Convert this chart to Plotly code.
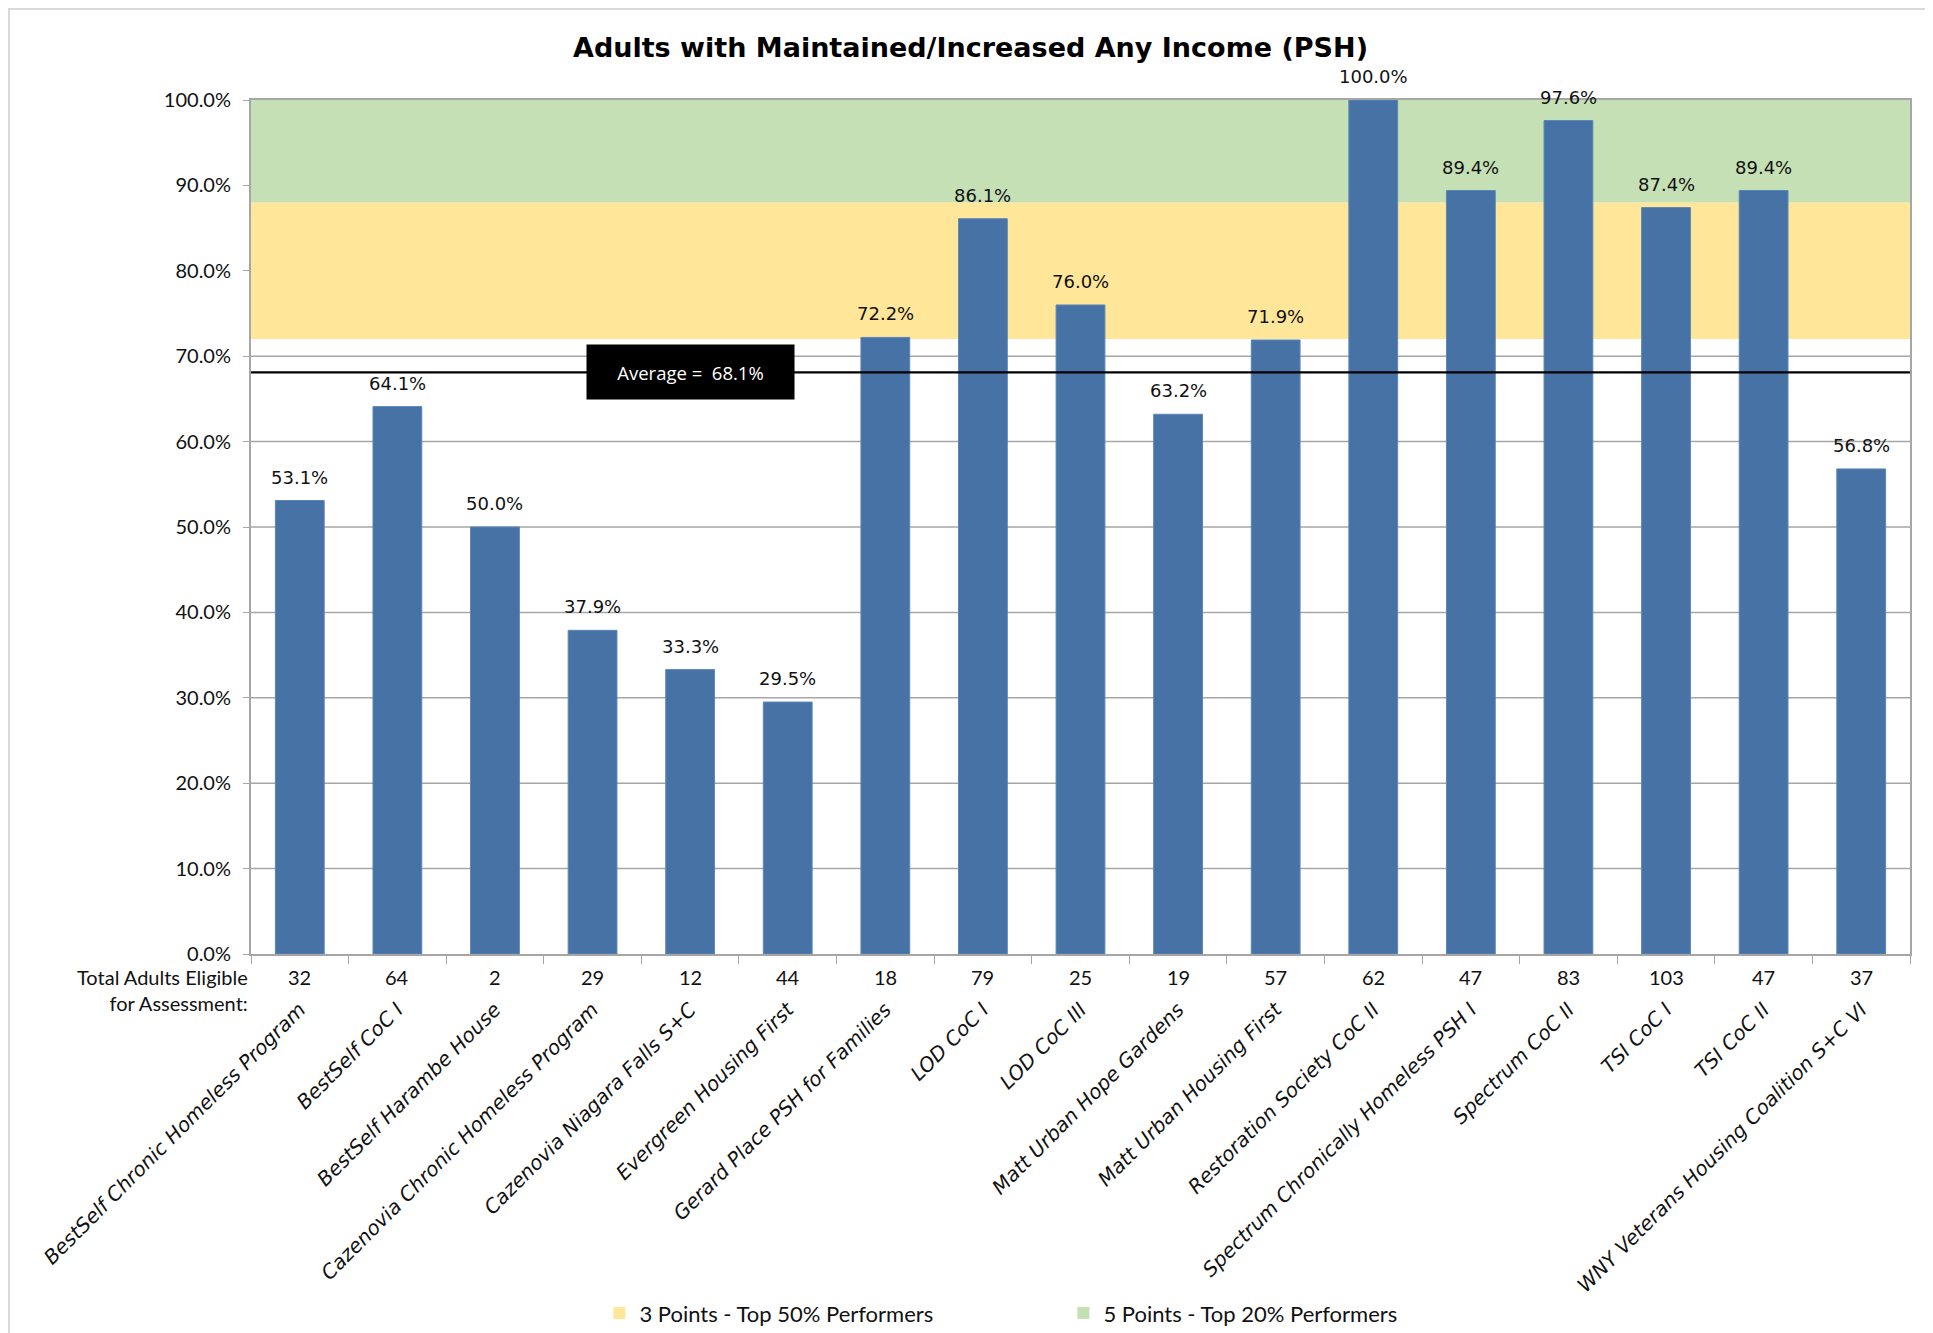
import plotly.graph_objects as go

categories = [
    "BestSelf Chronic Homeless Program", "BestSelf CoC I", "BestSelf Harambe House",
    "Cazenovia Chronic Homeless Program", "Cazenovia Niagara Falls S+C", "Evergreen Housing First",
    "Gerard Place PSH for Families", "LOD CoC I", "LOD CoC III", "Matt Urban Hope Gardens",
    "Matt Urban Housing First", "Restoration Society CoC II", "Spectrum Chronically Homeless PSH I",
    "Spectrum CoC II", "TSI CoC I", "TSI CoC II", "WNY Veterans Housing Coalition S+C VI",
]
pct_values = [53.1, 64.1, 50.0, 37.9, 33.3, 29.5, 72.2, 86.1, 76.0, 63.2, 71.9, 100.0, 89.4, 97.6, 87.4, 89.4, 56.8]
eligible_counts = [32, 64, 2, 29, 12, 44, 18, 79, 25, 19, 57, 62, 47, 83, 103, 47, 37]
average_value = 68.1
band_top50 = (72.0, 88.0)
band_top20 = (88.0, 100.0)
y_ticks = [0, 10, 20, 30, 40, 50, 60, 70, 80, 90, 100]
legend_labels = ["3 Points - Top 50% Performers", "5 Points - Top 20% Performers"]

BAR = "#4672A6"
GREEN = "#C5E0B4"
YELLOW = "#FFE699"
GRID = "#A6A6A6"
WIDE = "DejaVu Sans"
NARROW = "Liberation Sans Narrow, Lato"

fig = go.Figure()
fig.add_trace(go.Bar(
    x=categories, y=pct_values, marker=dict(color=BAR, line=dict(color="#5B86B8", width=1)),
    showlegend=False, width=0.5, hoverinfo="x+y",
))
# legend dummies
fig.add_trace(go.Scatter(x=[None], y=[None], mode="markers", name=legend_labels[0],
                         marker=dict(symbol="square", size=10, color=YELLOW)))
fig.add_trace(go.Scatter(x=[None], y=[None], mode="markers", name=legend_labels[1],
                         marker=dict(symbol="square", size=10, color=GREEN)))

# data labels
for c, v in zip(categories, pct_values):
    fig.add_annotation(x=c, y=v, xref="x", yref="y", text=f"{v:.1f}%", showarrow=False,
                       yanchor="bottom", yshift=11, font=dict(family=WIDE, size=18, color="#111"))

# gridlines (drawn as shapes so bands can cover them)
for t in y_ticks[1:-1]:
    fig.add_shape(type="line", xref="paper", yref="y", x0=0, x1=1, y0=t, y1=t,
                  line=dict(color=GRID, width=1.5), layer="below")
# bands
fig.add_shape(type="rect", xref="paper", yref="y", x0=0, x1=1, y0=band_top50[0], y1=band_top50[1],
              fillcolor=YELLOW, line=dict(width=0), layer="below")
fig.add_shape(type="rect", xref="paper", yref="y", x0=0, x1=1, y0=band_top20[0], y1=band_top20[1],
              fillcolor=GREEN, line=dict(width=0), layer="below")
# average line
fig.add_shape(type="line", xref="paper", yref="y", x0=0, x1=1, y0=average_value, y1=average_value,
              line=dict(color="black", width=2.2), layer="above")
fig.add_annotation(x=categories[4], y=average_value, xref="x", yref="y",
                   text=f"Average =  {average_value:.1f}%", showarrow=False,
                   bgcolor="black", font=dict(family="Open Sans", size=18.5, color="white"),
                   width=205, height=52, align="center", valign="middle")
# counts row
for c, n in zip(categories, eligible_counts):
    fig.add_annotation(x=c, y=0, xref="x", yref="paper", text=str(n), showarrow=False,
                       yanchor="top", yshift=-9, font=dict(family=NARROW, size=20, color="#111"))
fig.add_annotation(x=0, y=0, xref="paper", yref="paper", xanchor="right", yanchor="top",
                   text="Total Adults Eligible<br>for Assessment:", showarrow=False, align="right",
                   xshift=-1, yshift=-9, font=dict(family=NARROW, size=20, color="#111"))
# outer border
fig.add_shape(type="rect", xref="paper", yref="paper", x0=-0.1459, x1=1.0135, y0=-0.47, y1=1.1066,
              line=dict(color="#D9D9D9", width=2), fillcolor="rgba(0,0,0,0)", layer="below")

fig.update_layout(
    width=1925, height=1325,
    margin=dict(l=243, r=23, t=92, b=379, autoexpand=False),
    paper_bgcolor="white", plot_bgcolor="white",
    title=dict(text="<b>Adults with Maintained/Increased Any Income (PSH)</b>", x=0.5, xref="container",
               xanchor="center", y=1 - 40 / 1325, yanchor="middle",
               font=dict(family=WIDE, size=27, color="black")),
    bargap=0.5,
    legend=dict(orientation="h", x=0.21, xanchor="left", yref="container", y=0.015, yanchor="middle",
                entrywidth=419, entrywidthmode="pixels", font=dict(family=NARROW, size=22, color="#111"),
                itemsizing="constant", bgcolor="rgba(0,0,0,0)"),
    showlegend=True,
)
fig.update_yaxes(range=[0, 100], tickvals=y_ticks, ticktext=[f"{v:.1f}%" for v in y_ticks],
                 showgrid=False, showline=True, linecolor=GRID, automargin=False,
                 linewidth=2, mirror=True, ticks="outside", ticklen=6, tickcolor=GRID,
                 ticklabelstandoff=8,
                 tickfont=dict(family=NARROW, size=20, color="#111"), zeroline=False, fixedrange=True)
fig.update_xaxes(type="category", range=[-0.5, len(categories) - 0.5], automargin=False,
                 tickangle=-45, tickson="boundaries", ticks="outside", ticklen=8,
                 tickcolor=GRID, showline=True, linecolor=GRID, linewidth=2, mirror=True,
                 showgrid=False, ticklabelstandoff=34,
                 tickfont=dict(family=WIDE, size=20, color="#111", style="italic"))

fig.write_html("out.html")
